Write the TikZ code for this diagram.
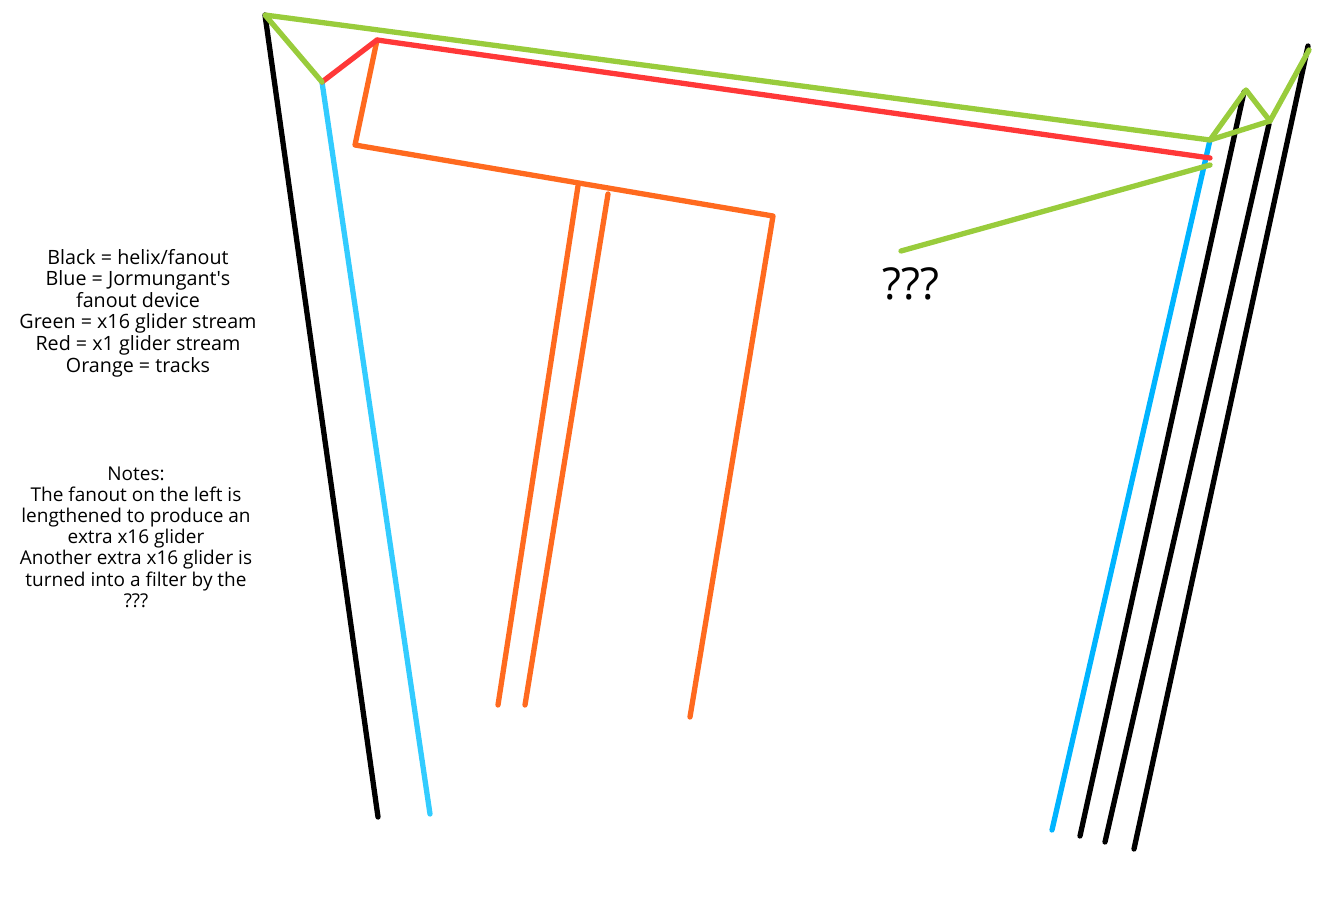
\documentclass[tikz,border=0pt]{standalone}
\usepackage{fontspec}
\setmainfont{Open Sans}
\definecolor{cgreen}{HTML}{99CC3C}
\definecolor{cred}{HTML}{FF3838}
\definecolor{corange}{HTML}{FF6A1F}
\definecolor{cblueL}{HTML}{33CCFF}
\definecolor{cblueR}{HTML}{00B4FF}
\tikzset{
  wire/.style={line width=5.3pt, line cap=round, line join=round},
  legend/.style={align=center, font=\fontsize{19.7}{21.6}\selectfont, inner sep=0pt},
  notestyle/.style={align=center, font=\fontsize{19}{21.2}\selectfont, inner sep=0pt},
}
\begin{document}
\begin{tikzpicture}[x=1pt,y=-1pt]
\useasboundingbox (0,0) rectangle (1328,915);
% coordinates
\coordinate (tl) at (265,15);
\coordinate (gl) at (322,82);
\coordinate (rc) at (377,40);
\coordinate (oc) at (355,145);
\coordinate (oe) at (773,216);
\coordinate (bl1) at (378,817);
\coordinate (blb) at (430,814);
\coordinate (gr) at (1210,140);
\coordinate (rr) at (1210,158);
\coordinate (gr2) at (1210,165);
\coordinate (gq) at (901,251);
\coordinate (p1) at (1246,90);
\coordinate (p2) at (1270,121);
\coordinate (p3) at (1309,50);
\coordinate (k1t) at (1244,92);
\coordinate (k2t) at (1269,124);
\coordinate (k3t) at (1308,46);
\coordinate (k1b) at (1080,836);
\coordinate (k2b) at (1105,842);
\coordinate (k3b) at (1134,849);
\coordinate (brb) at (1052,830);
\coordinate (o1t) at (578,186);
\coordinate (o1b) at (498,705);
\coordinate (o2t) at (608,194);
\coordinate (o2b) at (525,705);
\coordinate (o3b) at (690,717);
% black
\draw[wire, black] (tl) -- (bl1);
\draw[wire, black] (k1t) -- (k1b);
\draw[wire, black] (k2t) -- (k2b);
\draw[wire, black] (k3t) -- (k3b);
% blue
\draw[wire, cblueL] (gl) -- (blb);
\draw[wire, cblueR] (gr) -- (brb);
% orange
\draw[wire, corange] (rc) -- (oc) -- (oe) -- (o3b);
\draw[wire, corange] (o1t) -- (o1b);
\draw[wire, corange] (o2t) -- (o2b);
% red
\draw[wire, cred] (gl) -- (rc) -- (rr);
% green
\draw[wire, cgreen] (gl) -- (tl) -- (gr) -- (p1) -- (p2) -- (p3);
\draw[wire, cgreen] (gr) -- (p2);
\draw[wire, cgreen] (gr2) -- (gq);
% texts
\node[font=\fontsize{44}{48}\selectfont, inner sep=0pt] (q) at (911,284) {???};
\node[legend] (leg) at (138,313) {Black = helix/fanout\\Blue = Jormungant\textquotesingle s\\fanout device\\Green = x16 glider stream\\Red = x1 glider stream\\Orange = tracks};
\node[notestyle] (notes) at (136,537) {Notes:\\The fanout on the left is\\lengthened to produce an\\extra x16 glider\\Another extra x16 glider is\\turned into a filter by the\\???};
\end{tikzpicture}
\end{document}
